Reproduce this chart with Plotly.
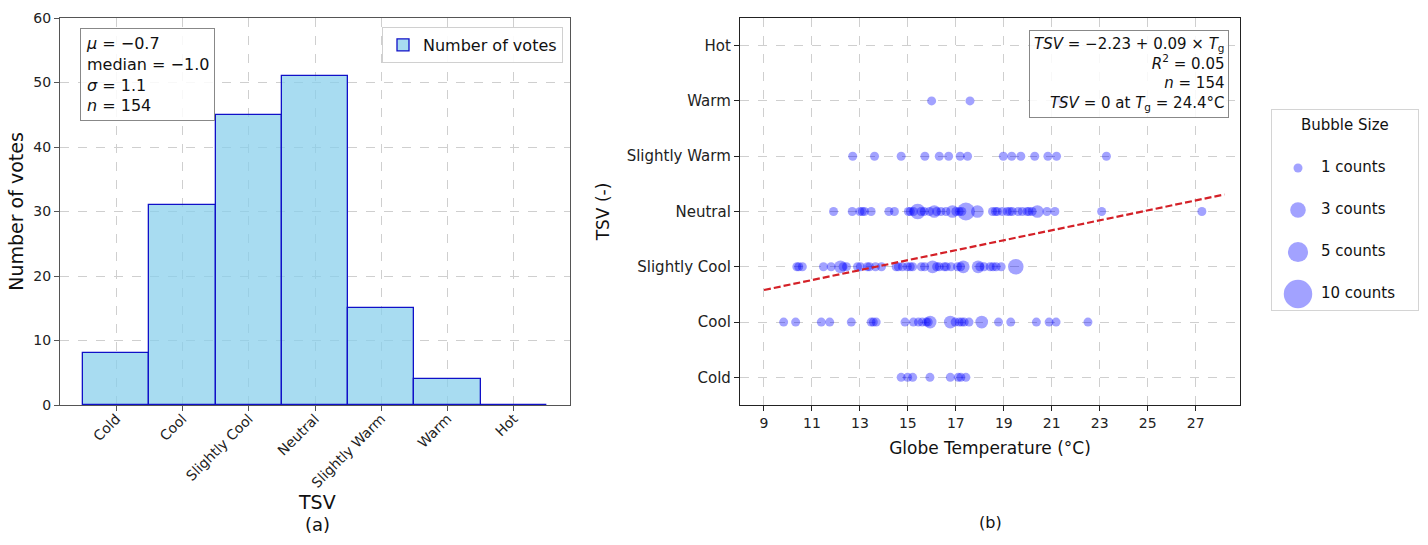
import plotly.graph_objects as go
from collections import Counter
import math

# ---------------- data ----------------
categories = ["Cold", "Cool", "Slightly Cool", "Neutral", "Slightly Warm", "Warm", "Hot"]
tsv_values = [-3, -2, -1, 0, 1, 2, 3]
votes = [8, 31, 45, 51, 15, 4, 0]

# globe temperature of individual votes, per TSV level
tg_cold = [14.72, 14.99, 15.20, 15.92, 16.77, 17.10, 17.21, 17.42]
tg_cool = [9.82, 10.32, 11.39, 11.74, 12.64, 13.47, 13.56, 13.68, 14.88, 15.23, 15.44,
           15.60, 15.77, 15.85, 15.93, 15.93, 16.77, 16.77, 16.97, 17.14, 17.25, 17.35,
           17.55, 18.08, 18.08, 18.78, 19.29, 20.36, 20.89, 21.18, 22.51]
tg_slightly_cool = [10.37, 10.45, 10.60, 11.48, 11.80, 12.19, 12.19, 12.30, 12.44, 12.90,
                    13.02, 13.31, 13.40, 13.65, 13.90, 14.51, 14.60, 14.77, 14.98, 15.10,
                    15.20, 15.56, 15.70, 16.03, 16.03, 16.20, 16.31, 16.52, 16.60, 16.80,
                    17.07, 17.20, 17.31, 17.31, 17.93, 17.93, 18.00, 18.18, 18.43, 18.55,
                    18.68, 18.89, 19.50, 19.50, 19.50]
tg_neutral = [11.90, 12.68, 13.00, 13.10, 13.19, 13.47, 14.21, 14.44, 15.02, 15.10, 15.23,
              15.41, 15.41, 15.41, 15.55, 15.68, 15.90, 16.10, 16.10, 16.20, 16.38, 16.59,
              16.86, 16.86, 17.00, 17.14, 17.25, 17.42, 17.42, 17.42, 17.42, 17.90, 17.90,
              18.53, 18.65, 18.73, 18.94, 19.14, 19.25, 19.35, 19.60, 19.77, 19.97, 20.05,
              20.18, 20.40, 20.40, 20.80, 21.13, 23.08, 27.26]
tg_slightly_warm = [12.70, 13.61, 14.72, 15.71, 16.31, 16.70, 17.18, 17.49, 18.98, 19.33,
                    19.71, 20.29, 20.84, 21.20, 23.28]
tg_warm = [15.99, 17.59, 21.30, 21.44]
tg_hot = []

fit_intercept = -2.23
fit_slope = 0.09
fit_x = [9.0, 28.2]

legend_counts = [1, 3, 5, 10]
legend_labels = ["1 counts", "3 counts", "5 counts", "10 counts"]

x_ticks = [9, 11, 13, 15, 17, 19, 21, 23, 25, 27]

# ---------------- figure ----------------
W, H = 1428, 545
FONT = "DejaVu Sans"
BASE_D = 9.0


def diam(c):
    return BASE_D * math.sqrt(c)


fig = go.Figure()

fig.add_trace(go.Bar(
    x=tsv_values, y=votes, width=1, name="Number of votes",
    marker=dict(color="rgba(135,206,235,0.72)", line=dict(color="#1010c8", width=1.3)),
    xaxis="x", yaxis="y", showlegend=True,
))

rows = [tg_cold, tg_cool, tg_slightly_cool, tg_neutral, tg_slightly_warm, tg_warm, tg_hot]
bx, by, bs = [], [], []
for level, tgs in zip(tsv_values, rows):
    cnt = Counter(tgs)
    for t, c in sorted(cnt.items()):
        bx.append(t)
        by.append(level)
        bs.append(diam(c))

fig.add_trace(go.Scatter(
    x=bx, y=by, mode="markers",
    marker=dict(size=bs, color="rgba(0,0,255,0.52)", line=dict(width=0)),
    xaxis="x2", yaxis="y2", showlegend=False,
))

fig.add_trace(go.Scatter(
    x=fit_x, y=[fit_intercept + fit_slope * v for v in fit_x], mode="lines",
    line=dict(color="#d42027", width=2.2, dash="7px,3px"),
    xaxis="x2", yaxis="y2", showlegend=False,
))

# bubble size legend (own small axes)
fig.add_trace(go.Scatter(
    x=[26] * len(legend_counts), y=list(range(len(legend_counts))), mode="markers",
    marker=dict(size=[diam(c) for c in legend_counts], color="rgba(0,0,255,0.52)", line=dict(width=0)),
    xaxis="x3", yaxis="y3", showlegend=False,
))
fig.add_trace(go.Scatter(
    x=[49] * len(legend_counts), y=list(range(len(legend_counts))), mode="text",
    text=legend_labels, textposition="middle right",
    textfont=dict(family=FONT, size=15, color="#111"),
    xaxis="x3", yaxis="y3", showlegend=False,
))

ydom = [1 - 405 / H, 1 - 18 / H]
grid = dict(showgrid=True, gridcolor="#cfcfcf", griddash="dash", gridwidth=1, zeroline=False,
            automargin=False)
tickf = dict(family=FONT, size=14, color="#222")

fig.update_layout(
    width=W, height=H, margin=dict(l=0, r=0, t=0, b=0, autoexpand=False),
    paper_bgcolor="white", plot_bgcolor="white",
    font=dict(family=FONT, color="#222"),
    bargap=0,
    xaxis=dict(domain=[60 / W, 570 / W], range=[-3.85, 3.85], tickvals=tsv_values,
               ticktext=categories, tickangle=-45, tickfont=dict(family=FONT, size=14, color="#222"),
               showline=True, mirror=True, linecolor="#555", linewidth=1.3, ticks="outside",
               ticklen=5, tickcolor="#555", anchor="y", ticklabelstandoff=-6,
               **grid),
    yaxis=dict(domain=ydom, range=[0, 60], dtick=10, tickfont=tickf,
               showline=True, mirror=True, linecolor="#555", linewidth=1.3, ticks="outside",
               ticklen=5, tickcolor="#555", anchor="x",
               title=dict(text="Number of votes", font=dict(family=FONT, size=19, color="#111"), standoff=4),
               **grid),
    xaxis2=dict(domain=[740 / W, 1240 / W], range=[8.0, 28.85], tickvals=x_ticks,
                tickfont=dict(family=FONT, size=14, color="#222"),
                showline=True, mirror=True, linecolor="#222", linewidth=1.3, ticks="outside",
                ticklen=5, tickcolor="#222", anchor="y2",
                title=dict(text="Globe Temperature (°C)", font=dict(family=FONT, size=17, color="#111"), standoff=12),
                **grid),
    yaxis2=dict(domain=ydom, range=[-3.5, 3.5], tickvals=tsv_values, ticktext=categories,
                tickfont=dict(family=FONT, size=15, color="#222"),
                showline=True, mirror=True, linecolor="#222", linewidth=1.3, ticks="outside",
                ticklen=5, tickcolor="#222", anchor="x2",
                title=dict(text="TSV (-)", font=dict(family=FONT, size=17, color="#111"), standoff=12),
                **grid),
    xaxis3=dict(domain=[1272 / W, 1418 / W], range=[0, 146], showgrid=False, zeroline=False,
                showticklabels=False, ticks="", showline=True, mirror=True, linecolor="#d4d4d4",
                linewidth=1, anchor="y3", fixedrange=True, automargin=False),
    yaxis3=dict(domain=[1 - 310 / H, 1 - 110 / H], range=[3.38, -1.38], showgrid=False, zeroline=False,
                showticklabels=False, ticks="", showline=True, mirror=True, linecolor="#d4d4d4",
                linewidth=1, anchor="x3", fixedrange=True, automargin=False),
    legend=dict(x=563 / W, xanchor="right", y=1 - 27 / H, yanchor="top",
                bgcolor="rgba(255,255,255,0.9)", bordercolor="#d0d0d0", borderwidth=1,
                font=dict(family=FONT, size=16, color="#111")),
)

fig.add_annotation(
    text="<i>μ</i> = −0.7<br>median = −1.0<br><i>σ</i> = 1.1<br><i>n</i> = 154",
    xref="paper", yref="paper", x=80 / W, y=1 - 28 / H, xanchor="left", yanchor="top",
    align="left", showarrow=False, font=dict(family=FONT, size=16, color="#111"),
    bgcolor="rgba(255,255,255,0.85)", bordercolor="#888", borderwidth=1, borderpad=5,
)
fig.add_annotation(
    text="<i>TSV</i> = −2.23 + 0.09 × <i>T</i><sub>g</sub><br><i>R</i><sup>2</sup> = 0.05<br>"
         "<i>n</i> = 154<br><i>TSV</i> = 0 at <i>T</i><sub>g</sub> = 24.4°C",
    xref="paper", yref="paper", x=1229 / W, y=1 - 30 / H, xanchor="right", yanchor="top",
    align="right", showarrow=False, font=dict(family=FONT, size=15, color="#111"),
    bgcolor="rgba(255,255,255,0.85)", bordercolor="#888", borderwidth=1, borderpad=4,
)
fig.add_annotation(
    text="Bubble Size", xref="x3", yref="y3", x=73, y=-1.02, showarrow=False,
    xanchor="center", yanchor="middle",
    font=dict(family=FONT, size=15, color="#111"),
)
fig.add_annotation(
    text="TSV", xref="paper", yref="paper", x=317 / W, y=1 - 502 / H, showarrow=False,
    xanchor="center", yanchor="middle",
    font=dict(family=FONT, size=19, color="#111"),
)
fig.add_annotation(
    text="(a)", xref="paper", yref="paper", x=317 / W, y=1 - 524 / H, showarrow=False,
    xanchor="center", yanchor="middle",
    font=dict(family=FONT, size=18, color="#111"),
)
fig.add_annotation(
    text="(b)", xref="paper", yref="paper", x=990 / W, y=1 - 522 / H, showarrow=False,
    xanchor="center", yanchor="middle",
    font=dict(family=FONT, size=16, color="#111"),
)

fig.write_html("out.html")
